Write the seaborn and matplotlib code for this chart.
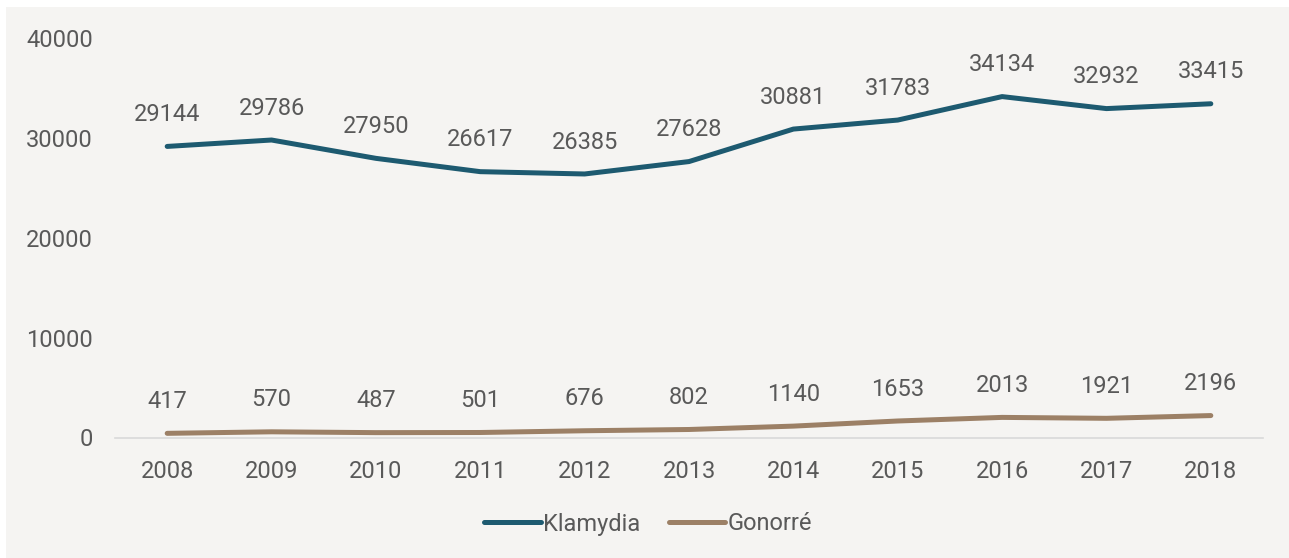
import matplotlib
matplotlib.use("Agg")
import matplotlib.pyplot as plt
import pandas as pd
import seaborn as sns
from matplotlib.patches import Rectangle

YEARS = [2008, 2009, 2010, 2011, 2012, 2013, 2014, 2015, 2016, 2017, 2018]
KLAMYDIA = [29144, 29786, 27950, 26617, 26385, 27628, 30881, 31783, 34134, 32932, 33415]
GONORRE = [417, 570, 487, 501, 676, 802, 1140, 1653, 2013, 1921, 2196]
SERIES = ["Klamydia", "Gonorré"]
Y_TICKS = [0, 10000, 20000, 30000, 40000]

BG = "#f5f4f2"
TEXT = "#595959"
_colors = {"Klamydia": "#1d5a70", "Gonorré": "#9c8066"}

sns.set_theme(style="white")
plt.rcParams["font.family"] = ["Roboto", "DejaVu Sans"]
FS = 17


def main():
    df = pd.DataFrame({
        "year": [str(y) for y in YEARS] * 2,
        "value": KLAMYDIA + GONORRE,
        "series": ["Klamydia"] * len(YEARS) + ["Gonorré"] * len(YEARS),
    })

    fig = plt.figure(figsize=(12.89, 5.58), dpi=100)
    fig.patch.set_facecolor("white")
    fig.add_artist(Rectangle((6 / 1289, 0), 1, 551 / 558, transform=fig.transFigure,
                             facecolor=BG, edgecolor="none", zorder=-10))
    ax = fig.add_axes([115 / 1289, (558 - 437.5) / 558,
                       (1263 - 115) / 1289, (437.5 - 38) / 558])
    ax.set_facecolor("none")

    sns.lineplot(data=df, x="year", y="value", hue="series", hue_order=SERIES,
                 palette=_colors, linewidth=3.6, ax=ax, sort=False,
                 solid_capstyle="round")

    # Data labels
    for name, vals in (("Klamydia", KLAMYDIA), ("Gonorré", GONORRE)):
        for i, v in enumerate(vals):
            ax.annotate(str(v), (i, v), xytext=(0, 23), textcoords="offset points",
                        ha="center", va="center", fontsize=FS, color=TEXT)

    # Axes
    ax.set_xlim(-0.5, len(YEARS) - 0.5)
    ax.set_ylim(0, 40000)
    ax.set_yticks(Y_TICKS)
    ax.set_yticklabels([str(t) for t in Y_TICKS])
    ax.set(xlabel="", ylabel="")
    for side in ("top", "right", "left"):
        ax.spines[side].set_visible(False)
    ax.spines["bottom"].set_color("#d9d9d9")
    ax.spines["bottom"].set_linewidth(1.2)
    ax.tick_params(axis="both", length=0, labelsize=FS, colors=TEXT)
    ax.tick_params(axis="x", pad=16)
    ax.tick_params(axis="y", pad=16)

    # Legend
    handles, labels = ax.get_legend_handles_labels()
    leg = ax.legend(handles=handles, labels=labels, loc="center",
                    bbox_to_anchor=((648 - 115) / 1148, -(524 - 437.5) / (437.5 - 38)),
                    ncol=2, frameon=False, fontsize=FS, handlelength=2.4,
                    handletextpad=0.1, columnspacing=1.2)
    for t in leg.get_texts():
        t.set_color(TEXT)
    for h in leg.get_lines():
        h.set_linewidth(3.6)
        h.set_solid_capstyle("round")

    fig.savefig("out.png", dpi=100, facecolor=fig.get_facecolor())
    plt.close(fig)


if __name__ == "__main__":
    main()
